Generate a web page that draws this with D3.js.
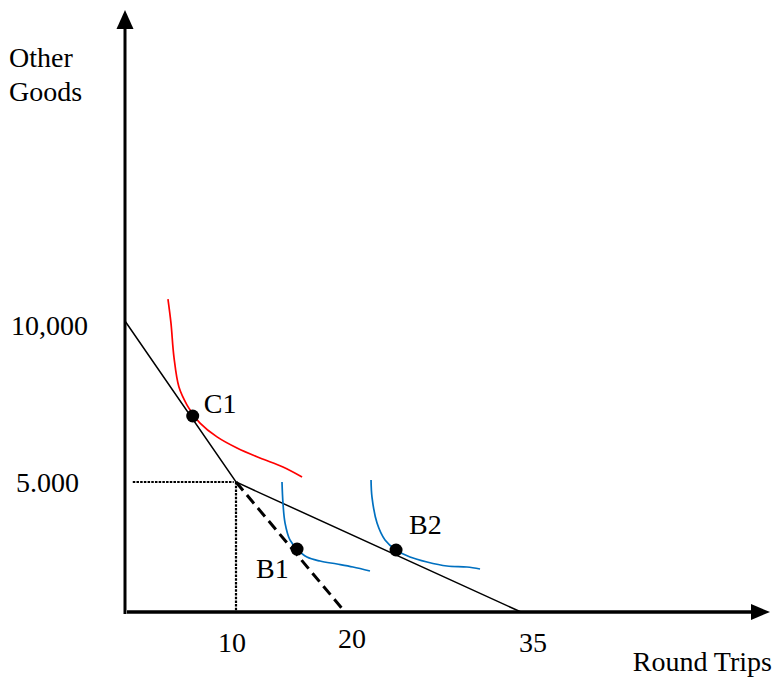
<!DOCTYPE html>
<html>
<head>
<meta charset="utf-8">
<script src="https://cdn.jsdelivr.net/npm/d3@7"></script>
<style>
  body { margin: 0; background: #fff; }
  svg { display: block; }
  text { font-family: "Liberation Serif", "Times New Roman", serif; font-size: 28px; fill: #000; }
</style>
</head>
<body>
<div id="chart"></div>
<script>
// schematic axes: tick values and where they sit
const xTicks = [0, 10, 20, 35]
const xTickLabels = ["", "10", "20", "35"]
const yTicks = [0, 5000, 10000]
const yTickLabels = ["", "5.000", "10,000"]

// budget lines (round trips, other goods)
const budgetSolid = [[0, 10000], [10, 5000], [35, 0]]
const budgetDashed = [[10, 5000], [20, 0]]
const guideH = [[0.7, 5000], [9.8, 5000]]
const guideV = [[10, 5000], [10, 0]]

// indifference curves
const curveC1 = [[3.87, 10680], [4.14, 9940], [4.41, 8880], [4.86, 7950], [5.59, 7390], [6.13, 7110],
    [6.76, 6830], [8.29, 6400], [10.09, 6055], [12.2, 5745], [14.31, 5465], [16.06, 5155]]
const curveB1 = [[14.22, 5000], [14.31, 4190], [14.5, 3420], [14.95, 2770], [15.6, 2420], [16.51, 2115],
    [17.71, 1960], [19.27, 1846], [20.68, 1731], [22.13, 1577]]
const curveB2 = [[22.22, 5060], [22.3, 4420], [22.73, 3420], [23.41, 2770], [24.35, 2385], [25.54, 2115],
    [26.99, 1923], [28.69, 1769], [30.4, 1731], [31.51, 1654]]

const pointNames = ["C1", "B1", "B2"]
const pointValues = [[6.1, 7050], [15.6, 2420], [24.35, 2385]]

function drawChart() {
    const width = 781
    const height = 677
    const x = d3.scaleLinear().domain(xTicks).range([125, 236, 345, 521])
    const y = d3.scaleLinear().domain(yTicks).range([612, 482, 321])

    const svg = d3.select("#chart").append("svg")
        .attr("width", width)
        .attr("height", height)

    const line = d3.line().x(d => x(d[0])).y(d => y(d[1]))
    const smooth = d3.line().x(d => x(d[0])).y(d => y(d[1])).curve(d3.curveCatmullRom)

    // dotted guides to the kink
    svg.selectAll("path.guide")
        .data([guideH, guideV])
        .join("path")
        .attr("class", "guide")
        .attr("d", line)
        .attr("fill", "none")
        .attr("stroke", "#000")
        .attr("stroke-width", 2.2)
        .attr("stroke-dasharray", "2.5,1.2")

    // budget lines
    svg.append("path")
        .attr("d", line(budgetSolid))
        .attr("fill", "none")
        .attr("stroke", "#000")
        .attr("stroke-width", 1.5)
    svg.append("path")
        .attr("d", line(budgetDashed))
        .attr("fill", "none")
        .attr("stroke", "#000")
        .attr("stroke-width", 3)
        .attr("stroke-dasharray", "11,6")

    // indifference curves
    const curves = [[curveC1, "#ff0000"], [curveB1, "#0070c0"], [curveB2, "#0070c0"]]
    svg.selectAll("path.curve")
        .data(curves)
        .join("path")
        .attr("class", "curve")
        .attr("d", d => smooth(d[0]))
        .attr("fill", "none")
        .attr("stroke", d => d[1])
        .attr("stroke-width", 1.7)

    // axes with arrow heads
    svg.append("line")
        .attr("x1", x(0)).attr("y1", y(0) + 2)
        .attr("x2", x(0)).attr("y2", 26)
        .attr("stroke", "#000").attr("stroke-width", 3)
    svg.append("path")
        .attr("d", `M${x(0)},10L${x(0) + 8.5},29L${x(0) - 8.5},29Z`)
        .attr("fill", "#000")
    svg.append("line")
        .attr("x1", x(0) + 2).attr("y1", y(0))
        .attr("x2", 755).attr("y2", y(0))
        .attr("stroke", "#000").attr("stroke-width", 3.5)
    svg.append("path")
        .attr("d", `M770,${y(0)}L751,${y(0) - 8}L751,${y(0) + 8}Z`)
        .attr("fill", "#000")

    // tick labels
    const xLabelDx = [0, -4, 7, 12]
    const xLabelY = [0, 652, 648, 652]
    svg.selectAll("text.xtick")
        .data(xTicks.map((v, i) => ({ v: v, label: xTickLabels[i], i: i })).filter(d => d.label))
        .join("text")
        .attr("class", "xtick")
        .attr("x", d => x(d.v) + xLabelDx[d.i])
        .attr("y", d => xLabelY[d.i])
        .attr("text-anchor", "middle")
        .text(d => d.label)

    const yLabelX = [0, 16, 11]
    const yLabelDy = [0, 10, 14]
    svg.selectAll("text.ytick")
        .data(yTicks.map((v, i) => ({ v: v, label: yTickLabels[i], i: i })).filter(d => d.label))
        .join("text")
        .attr("class", "ytick")
        .attr("x", d => yLabelX[d.i])
        .attr("y", d => y(d.v) + yLabelDy[d.i])
        .text(d => d.label)

    // axis titles
    svg.append("text").attr("x", 9).attr("y", 67).text("Other")
    svg.append("text").attr("x", 9).attr("y", 101).text("Goods")
    svg.append("text").attr("x", 772).attr("y", 671).attr("text-anchor", "end").text("Round Trips")

    // equilibrium points
    const labelOffsets = [[11, -3], [-41, 29], [13, -16]]
    const pts = svg.selectAll("g.pt")
        .data(pointValues.map((p, i) => ({ p: p, name: pointNames[i], off: labelOffsets[i] })))
        .join("g")
        .attr("class", "pt")
    pts.append("circle")
        .attr("cx", d => x(d.p[0]))
        .attr("cy", d => y(d.p[1]))
        .attr("r", 6.5)
        .attr("fill", "#000")
    pts.append("text")
        .attr("x", d => x(d.p[0]) + d.off[0])
        .attr("y", d => y(d.p[1]) + d.off[1])
        .text(d => d.name)
}

drawChart()
</script>
</body>
</html>
